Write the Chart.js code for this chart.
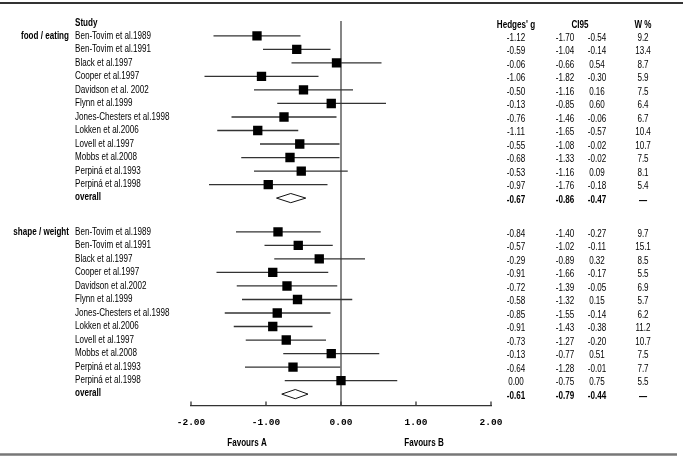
<!DOCTYPE html>
<html>
<head>
<meta charset="utf-8">
<script src="https://cdn.jsdelivr.net/npm/chart.js@4"></script>
<style>
  body { margin: 0; background: #fff; }
  canvas { display: block; }
</style>
</head>
<body>
<canvas id="forest" width="683" height="459"></canvas>
<script>
// studies, same order in both groups
const foodStudies = ['Ben-Tovim et al.1989', 'Ben-Tovim et al.1991', 'Black et al.1997', 'Cooper et al.1997',
    'Davidson et al. 2002', 'Flynn et al.1999', 'Jones-Chesters et al.1998', 'Lokken et al.2006',
    'Lovell et al.1997', 'Mobbs et al.2008', 'Perpiná et al.1993', 'Perpiná et al.1998'];
const shapeStudies = ['Ben-Tovim et al.1989', 'Ben-Tovim et al.1991', 'Black et al.1997', 'Cooper et al.1997',
    'Davidson et al.2002', 'Flynn et al.1999', 'Jones-Chesters et al.1998', 'Lokken et al.2006',
    'Lovell et al.1997', 'Mobbs et al.2008', 'Perpiná et al.1993', 'Perpiná et al.1998'];

// food / eating
const foodG  = [-1.12, -0.59, -0.06, -1.06, -0.50, -0.13, -0.76, -1.11, -0.55, -0.68, -0.53, -0.97];
const foodLo = [-1.70, -1.04, -0.66, -1.82, -1.16, -0.85, -1.46, -1.65, -1.08, -1.33, -1.16, -1.76];
const foodHi = [-0.54, -0.14, 0.54, -0.30, 0.16, 0.60, -0.06, -0.57, -0.02, -0.02, 0.09, -0.18];
const foodW  = [9.2, 13.4, 8.7, 5.9, 7.5, 6.4, 6.7, 10.4, 10.7, 7.5, 8.1, 5.4];
const foodOverall = [-0.67, -0.86, -0.47]; // g, lo, hi

// shape / weight
const shapeG  = [-0.84, -0.57, -0.29, -0.91, -0.72, -0.58, -0.85, -0.91, -0.73, -0.13, -0.64, 0.00];
const shapeLo = [-1.40, -1.02, -0.89, -1.66, -1.39, -1.32, -1.55, -1.43, -1.27, -0.77, -1.28, -0.75];
const shapeHi = [-0.27, -0.11, 0.32, -0.17, -0.05, 0.15, -0.14, -0.38, -0.20, 0.51, -0.01, 0.75];
const shapeW  = [9.7, 15.1, 8.5, 5.5, 6.9, 5.7, 6.2, 11.2, 10.7, 7.5, 7.7, 5.5];
const shapeOverall = [-0.61, -0.79, -0.44];

const xTicks = [-2, -1, 0, 1, 2];

// row positions (layout)
const Y_MIN = -0.1, Y_MAX = 28.35;
const foodRows = foodG.map((_, i) => i + 1);
const foodOverallRow = 13;
const shapeRows = shapeG.map((_, i) => i + 15.5);
const shapeOverallRow = 27.5;
const DIAMOND_H = 0.34;

const fmt = v => v.toFixed(2);
const FONT = '"Liberation Sans", Arial, sans-serif';
const SQUEEZE = 0.77; // fake a narrow face

function ciSets(lo, hi, rows) {
    return lo.map((l, i) => ({
        type: 'scatter', showLine: true, order: 2,
        data: [{ x: l, y: rows[i] }, { x: hi[i], y: rows[i] }],
        borderColor: '#333', borderWidth: 1.3, pointRadius: 0
    }));
}

function diamond(ov, row) {
    return {
        type: 'scatter', showLine: true, order: 1,
        data: [{ x: ov[1], y: row }, { x: ov[0], y: row - DIAMOND_H }, { x: ov[2], y: row },
               { x: ov[0], y: row + DIAMOND_H }, { x: ov[1], y: row }],
        borderColor: '#111', borderWidth: 1, pointRadius: 0, tension: 0
    };
}

const tablePlugin = {
    id: 'tableText',
    afterDraw(chart) {
        const ctx = chart.ctx;
        const ys = chart.scales.y, xs = chart.scales.x;
        const area = chart.chartArea;
        ctx.save();

        // frame lines
        ctx.strokeStyle = '#333'; ctx.lineWidth = 2;
        ctx.beginPath(); ctx.moveTo(0, 3); ctx.lineTo(683, 3); ctx.stroke();
        ctx.strokeStyle = '#777'; ctx.lineWidth = 2.5;
        ctx.beginPath(); ctx.moveTo(0, 454.5); ctx.lineTo(677, 454.5); ctx.stroke();

        // small upward ticks on the axis
        ctx.strokeStyle = '#333'; ctx.lineWidth = 1.3;
        xTicks.forEach(t => {
            const px = xs.getPixelForValue(t);
            ctx.beginPath(); ctx.moveTo(px, area.bottom); ctx.lineTo(px, area.bottom - 4); ctx.stroke();
        });

        ctx.fillStyle = '#000';
        ctx.textBaseline = 'middle';
        const txt = (s, x, y, align, bold) => {
            ctx.save();
            ctx.font = (bold ? 'bold ' : '') + '10.5px ' + FONT;
            ctx.textAlign = align;
            ctx.translate(x, y);
            ctx.scale(SQUEEZE, 1);
            ctx.fillText(s, 0, 0);
            ctx.restore();
        };

        const yHead = ys.getPixelForValue(0);
        txt('Study', 75, yHead + 1, 'left', true);
        txt("Hedges' g", 516, yHead + 3, 'center', true);
        txt('CI95', 580, yHead + 3, 'center', true);
        txt('W %', 643, yHead + 3, 'center', true);

        const group = (label, names, g, lo, hi, w, rows, ov, ovRow) => {
            txt(label, 69, ys.getPixelForValue(rows[0]), 'right', true);
            names.forEach((n, i) => {
                const y = ys.getPixelForValue(rows[i]);
                txt(n, 75, y, 'left', false);
                txt(fmt(g[i]), 516, y + 2, 'center', false);
                txt(fmt(lo[i]), 565, y + 2, 'center', false);
                txt(fmt(hi[i]), 597, y + 2, 'center', false);
                txt(w[i].toFixed(1), 643, y + 2, 'center', false);
            });
            const yo = ys.getPixelForValue(ovRow);
            txt('overall', 75, yo - 1, 'left', true);
            txt(fmt(ov[0]), 516, yo + 2, 'center', true);
            txt(fmt(ov[1]), 565, yo + 2, 'center', true);
            txt(fmt(ov[2]), 597, yo + 2, 'center', true);
            txt('—', 643, yo + 3, 'center', true);
        };
        group('food / eating', foodStudies, foodG, foodLo, foodHi, foodW, foodRows, foodOverall, foodOverallRow);
        group('shape / weight', shapeStudies, shapeG, shapeLo, shapeHi, shapeW, shapeRows, shapeOverall, shapeOverallRow);

        txt('Favours A', 247, 443, 'center', true);
        txt('Favours B', 424, 443, 'center', true);
        ctx.restore();
    }
};

const squares = {
    type: 'scatter', order: 0,
    data: foodG.map((g, i) => ({ x: g, y: foodRows[i] }))
        .concat(shapeG.map((g, i) => ({ x: g, y: shapeRows[i] }))),
    pointStyle: 'rect', pointRadius: 6.6, backgroundColor: '#000', borderColor: '#000', borderWidth: 0
};

const zeroLine = {
    type: 'scatter', showLine: true, order: 3,
    data: [{ x: 0, y: Y_MIN }, { x: 0, y: Y_MAX }],
    borderColor: '#444', borderWidth: 1.3, pointRadius: 0
};

new Chart(document.getElementById('forest'), {
    type: 'scatter',
    data: {
        datasets: [squares, diamond(foodOverall, foodOverallRow), diamond(shapeOverall, shapeOverallRow), zeroLine]
            .concat(ciSets(foodLo, foodHi, foodRows), ciSets(shapeLo, shapeHi, shapeRows))
    },
    options: {
        responsive: false,
        animation: false,
        layout: { padding: { left: 191, right: 192, top: 21, bottom: 28 } },
        plugins: { legend: { display: false }, tooltip: { enabled: false } },
        scales: {
            x: {
                type: 'linear', min: -2, max: 2,
                afterBuildTicks: s => { s.ticks = xTicks.map(v => ({ value: v })); },
                grid: { display: false },
                border: { display: true, color: '#333', width: 1.3 },
                ticks: {
                    padding: 3, color: '#000',
                    font: { family: '"Liberation Mono", "DejaVu Sans Mono", monospace', size: 9.5, weight: 'bold' },
                    callback: v => fmt(v)
                }
            },
            y: { type: 'linear', reverse: true, min: Y_MIN, max: Y_MAX, display: false }
        }
    },
    plugins: [tablePlugin]
});
</script>
</body>
</html>
